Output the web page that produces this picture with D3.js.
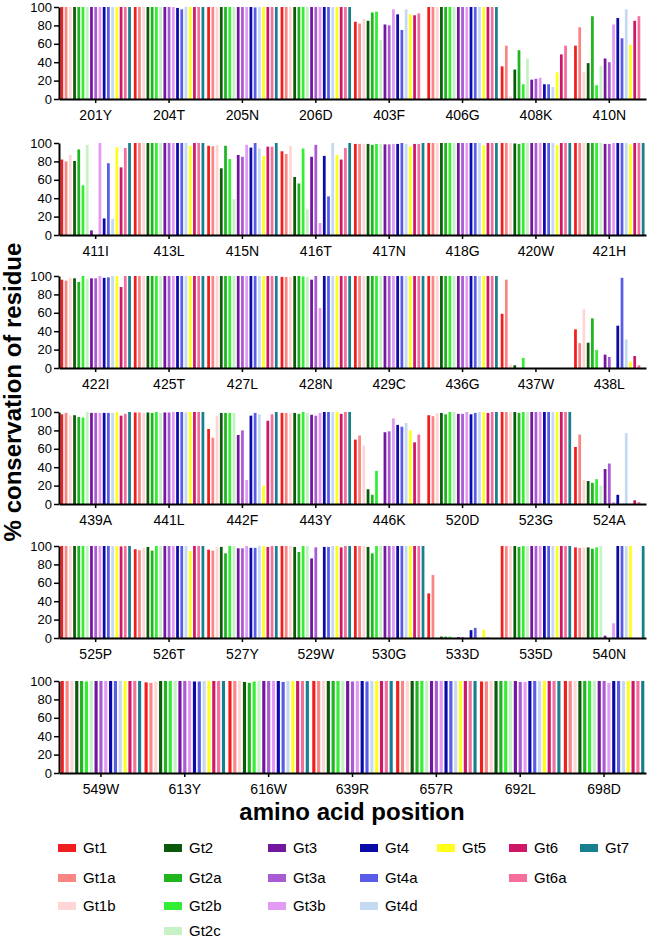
<!DOCTYPE html>
<html><head><meta charset="utf-8">
<script src="https://cdn.jsdelivr.net/npm/d3@7"></script>
<style>body{margin:0;background:#fff} svg{display:block}</style>
</head><body>
<svg id="c" width="649" height="938"></svg>
<script>
const series = ["Gt1","Gt1a","Gt1b","Gt2","Gt2a","Gt2b","Gt2c","Gt3","Gt3a","Gt3b","Gt4","Gt4a","Gt4d","Gt5","Gt6","Gt6a","Gt7"];
const colors = ["#f21d1d","#f98585","#ffd6d6","#0b5a0b","#1fb51f","#33ee33","#c6f2c6","#73169e","#a95bd3","#e39af5","#0a0aa6","#5b5bea","#c5d9f3","#ffff1e","#cf1768","#f56f9c","#17808f"];
const yTicks = [0,20,40,60,80,100];

const cats1 = ["201Y","204T","205N","206D","403F","406G","408K","410N"];
const vals1 = [
  [100,100,100,100,100,100,100,100,100,100,100,100,100,100,100,100,100],
  [100,100,100,100,100,100,100,100,100,100,99,97.5,100,100,100,100,100],
  [100,100,100,100,100,100,100,100,100,100,100,99.5,100,100,100,100,100],
  [100,100,100,100,100,100,100,100,100,100,100,100,100,100,100,100,100],
  [84,82,87,85,94,95,64,81,80,97.5,92,75,97.5,92,91,93,0],
  [100,100,100,100,100,100,100,100,100,100,100,100,100,100,100,100,100],
  [35.5,58,3,32,53,16,44,21,22,23,16,16,13,29,48.5,58,0],
  [58,78,29,39,90,15,36,44,40,81,88,66,97.5,59,85,90,0]
];
const cats2 = ["411I","413L","415N","416T","417N","418G","420W","421H"];
const vals2 = [
  [82,80,87,80.5,93,54,98,5,0,100,18,78,17.5,95.5,73.5,94.5,100],
  [100,100,100,100,100,100,100,100,100,100,100,100,100,97,100,100,100],
  [97,96.5,98,72.5,97,82.5,39,87,85,98,95,100,94,86,96,96,100],
  [91,88,97,63,56,94,28,85,98,13,86,42,100,87,82,94.5,100],
  [99,99,99,99,98,99,99,98.5,98.5,99,99,100,99,96.5,99,99,100],
  [100,100,100,100,100,100,100,100,100,100,100,100,100,97.5,100,100,100],
  [100,100,100,99.5,99,100,100,100,100,100,100,100,100,98,100,100,100],
  [100,100,100,100,100,100,100,99,99,100,100,100,100,98.5,100,100,100]
];
const cats3 = ["422I","425T","427L","428N","429C","436G","437W","438L"];
const vals3 = [
  [96,95,98,97.5,93.5,100,97,97.5,97.5,100,98,98.5,100,100,88,100,100],
  [100,100,100,100,100,100,100,100,100,100,100,100,100,100,100,100,100],
  [100,100,100,100,100,100,100,100,100,100,100,100,100,100,100,100,100],
  [99,99,99,100,100,99.5,99,96,100,65,100,100,100,100,100,100,100],
  [100,100,100,100,100,100,100,100,100,100,100,100,100,100,100,100,100],
  [100,100,100,100,100,100,100,100,100,100,100,100,100,100,100,100,100],
  [59,96,4,3,0,11,0,0,0,0,0,0,0,0,0,0,0],
  [42,27,64,27.5,54,19.5,0,14.5,12,0,46,98,31,7,13,3,0]
];
const cats4 = ["439A","441L","442F","443Y","446K","520D","523G","524A"];
const vals4 = [
  [97.5,99,96,96.5,94.5,94,100,99,99,99,99,99,99,100,96,98,100],
  [99.5,99.5,99,99.5,99,100,99,99.5,99.5,100,100,100,99.5,100,100,100,100],
  [81.5,72,96,99,99,99,99,75,80,26,96,99,97.5,20,90.5,97.5,100],
  [99,99,99,99,98,100,99,97,96,99,100,100,100,100,98,100,100],
  [70,74.5,63.5,16,10,36,0,78,79,93,86,84,88,80,67,75.5,0],
  [96.5,95.5,99,99,97.5,100,100,98,98,100,97.5,99,100,100,99,100,100],
  [100,100,100,100,99,100,100,100,100,100,100,100,100,100,100,100,100],
  [62,75.5,26,25,23,27,20,38,44,2,10,0,77,0,4,2,0]
];
const cats5 = ["525P","526T","527Y","529W","530G","533D","535D","540N"];
const vals5 = [
  [100,100,100,100,100,100,100,100,100,100,100,100,100,100,99.5,100,100],
  [96.5,95.5,98,99,95,100,100,100,100,100,100,100,100,94.5,100,100,100],
  [96,95,98.5,99,92,100,100,97.5,97.5,100,98,98,100,100,99,100,100],
  [100,100,100,99,93.5,100,100,86.5,98.5,0,99,99,100,100,98.5,100,100],
  [100,100,100,99,92,100,100,100,100,100,100,100,100,100,100,100,100],
  [48.5,68.5,0,1.5,1.5,1.5,0,1,1,0,8.5,11,0,9,0.5,0,0],
  [100,100,100,100,99,100,100,100,100,100,100,100,100,100,100,100,100],
  [98.5,98,98.5,98.5,97,98.5,100,2.5,0,16,100,100,100,100,0,0,100]
];
const cats6 = ["549W","613Y","616W","639R","657R","692L","698D"];
const vals6 = [
  [100,100,100,100,100,99.5,100,100,100,100,100,100,100,100,100,100,100],
  [98.5,98,99.5,100,100,100,100,100,100,100,99.5,99.5,100,100,100,100,100],
  [100,100,100,99,98,99.5,100,100,100,100,100,99,100,100,100,100,100],
  [100,100,100,100,100,100,100,100,99.5,100,100,99.5,100,100,100,100,100],
  [100,100,100,100,100,100,100,100,100,100,100,100,100,100,100,100,100],
  [99.5,99.5,100,100,100,100,100,100,99,99,100,100,100,100,100,100,100],
  [100,100,100,100,100,100,100,100,100,98,100,100,100,100,100,100,100]
];

// legend layout: columns by genotype family
const legendCols = [["Gt1","Gt1a","Gt1b"],["Gt2","Gt2a","Gt2b","Gt2c"],["Gt3","Gt3a","Gt3b"],["Gt4","Gt4a","Gt4d"],["Gt5"],["Gt6","Gt6a"],["Gt7"]];

const FONT = "'Liberation Sans', Arial, sans-serif";
const svg = d3.select('#c').style('font-family', FONT);
const color = d3.scaleOrdinal().domain(series).range(colors);
const panels = [[cats1,vals1],[cats2,vals2],[cats3,vals3],[cats4,vals4],[cats5,vals5],[cats6,vals6]];
const tops = [7,143,276,412,546,681];
const H = 92, L = 59, R = 646;
const y = d3.scaleLinear().domain([0,100]).range([H,0]);

panels.forEach(([cats, vals], i) => {
  const g = svg.append('g').attr('transform', `translate(0,${tops[i]})`);
  const x0 = d3.scaleBand().domain(cats).range([L, R]).paddingInner(0.04).paddingOuter(0.02);
  const x1 = d3.scaleBand().domain(series).range([0, x0.bandwidth()]).paddingInner(0.35).paddingOuter(0);
  const groups = g.selectAll('g.grp').data(cats).join('g')
    .attr('transform', d => `translate(${x0(d)},0)`);
  groups.selectAll('rect').data((d, k) => series.map((s, j) => ({s, v: vals[k][j]})))
    .join('rect')
    .attr('x', d => x1(d.s))
    .attr('width', x1.bandwidth())
    .attr('y', d => y(d.v))
    .attr('height', d => H - y(d.v))
    .attr('fill', d => color(d.s));

  const ya = g.append('g').attr('transform', `translate(${L},0)`)
    .call(d3.axisLeft(y).tickValues(yTicks).tickSize(5).tickSizeOuter(0).tickPadding(2));
  ya.select('.domain').attr('stroke-width', 2);
  ya.selectAll('.tick line').attr('stroke-width', 1.5);
  ya.selectAll('text').attr('font-size', 13).attr('font-family', FONT).attr('fill', '#000');

  const xa = g.append('g').attr('transform', `translate(0,${H})`)
    .call(d3.axisBottom(x0).tickSize(4).tickSizeOuter(0).tickPadding(7));
  xa.select('.domain').attr('stroke-width', 2);
  xa.selectAll('.tick line').attr('stroke-width', 1.5);
  xa.selectAll('text').attr('font-size', 14).attr('font-family', FONT).attr('fill', '#000');
});

svg.append('text').attr('transform', 'translate(21,392) rotate(-90)')
  .attr('text-anchor', 'middle').attr('font-size', 24).attr('font-weight', 'bold')
  .text('% conservation of residue');
svg.append('text').attr('x', 352).attr('y', 820)
  .attr('text-anchor', 'middle').attr('font-size', 24).attr('font-weight', 'bold')
  .text('amino acid position');

const colX = [58, 164, 268, 360, 437, 509, 580];
const rowY = [848, 878, 906, 931];
const lg = svg.append('g');
legendCols.forEach((col, ci) => {
  col.forEach((name, ri) => {
    lg.append('rect').attr('x', colX[ci]).attr('y', rowY[ri] - 4).attr('width', 18).attr('height', 8)
      .attr('fill', color(name));
    lg.append('text').attr('x', colX[ci] + 25).attr('y', rowY[ri] + 5)
      .attr('font-size', 15).text(name);
  });
});
</script>
</body></html>
